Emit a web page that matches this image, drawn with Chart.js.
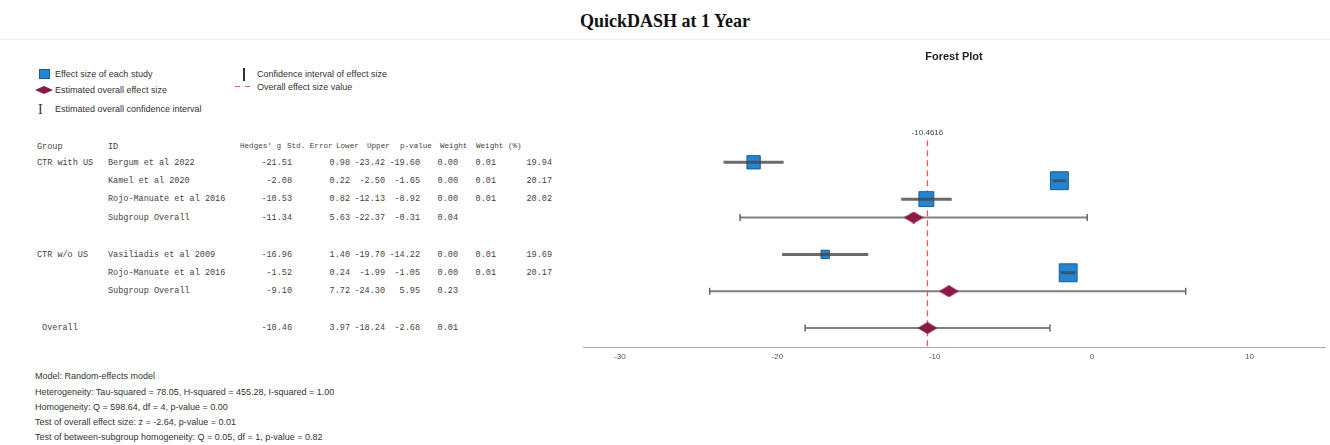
<!doctype html>
<html lang="en">
<head>
<meta charset="utf-8" />
<title>QuickDASH at 1 Year</title>
<script src="https://cdn.jsdelivr.net/npm/chart.js"></script>
<style>
  * { box-sizing: border-box; }
  body { margin: 0; width: 1330px; height: 445px; background: #fff; position: relative; overflow: hidden;
    font-family: "Liberation Sans", Arial, sans-serif; color: #333; }
  .abs { position: absolute; white-space: pre; line-height: 1; }
  .title { left: 0; width: 1330px; top: 11px; text-align: center; font: bold 18px "Liberation Serif", "Times New Roman", serif; color: #111; }
  .rule { position: absolute; left: 0; top: 39px; width: 1330px; height: 1px; background: #eee; }
  .leg { font-size: 9px; color: #333; }
  .mono { font: 8.5px "Liberation Mono", "Courier New", monospace; color: #444; }
  .hdr { font-size: 7.6px; }
  .r { text-align: right; }
  .note { font-size: 9px; color: #333; left: 35px; }
  #wrap { position: absolute; left: 583px; top: 45px; width: 745px; height: 322px; }
</style>
</head>
<body>
<div class="abs title">QuickDASH at 1 Year</div>
<div class="rule"></div>

<!-- legend -->
<div class="abs" style="left:39px;top:69px;width:11px;height:10px;background:#1f86d6;border:1px solid #1a5a96"></div>
<div class="abs leg" style="left:55px;top:70px">Effect size of each study</div>
<div class="abs" style="left:35px;top:86px;width:18px;height:8px;background:#8c1848;clip-path:polygon(0 50%,50% 0,100% 50%,50% 100%)"></div>
<div class="abs leg" style="left:55px;top:86px">Estimated overall effect size</div>
<div class="abs" style="left:38px;top:102px;font:14px 'Liberation Serif',serif;color:#333">I</div>
<div class="abs leg" style="left:55px;top:105px">Estimated overall confidence interval</div>
<div class="abs" style="left:243px;top:68px;width:2px;height:13px;background:#333"></div>
<div class="abs leg" style="left:257px;top:70px">Confidence interval of effect size</div>
<div class="abs" style="left:235px;top:86px;width:5px;height:1px;background:#e8585a"></div>
<div class="abs" style="left:245px;top:86px;width:5px;height:1px;background:#e8585a"></div>
<div class="abs leg" style="left:257px;top:83px">Overall effect size value</div>

<div id="table"></div>

<div class="abs note" style="top:372px">Model: Random-effects model</div>
<div class="abs note" style="top:388px">Heterogeneity: Tau-squared = 78.05, H-squared = 455.28, I-squared = 1.00</div>
<div class="abs note" style="top:403px">Homogeneity: Q = 598.64, df = 4, p-value = 0.00</div>
<div class="abs note" style="top:418px">Test of overall effect size: z = -2.64, p-value = 0.01</div>
<div class="abs note" style="top:433px">Test of between-subgroup homogeneity: Q = 0.05, df = 1, p-value = 0.82</div>

<div id="wrap"><canvas id="forest"></canvas></div>

<script>
// rows of the forest table (row slot 4 and 8 are blank spacer rows)
const rowSlot = [0, 1, 2, 3, 5, 6, 7, 9];
const groups = ["CTR with US", "", "", "", "CTR w/o US", "", "", " Overall"];
const ids = ["Bergum et al 2022", "Kamel et al 2020", "Rojo-Manuate et al 2016", "Subgroup Overall",
  "Vasiliadis et al 2009", "Rojo-Manuate et al 2016", "Subgroup Overall", ""];
const hedgesG = [-21.51, -2.08, -10.53, -11.34, -16.96, -1.52, -9.10, -10.46];
const stdErr = [0.98, 0.22, 0.82, 5.63, 1.40, 0.24, 7.72, 3.97];
const lower = [-23.42, -2.50, -12.13, -22.37, -19.70, -1.99, -24.30, -18.24];
const upper = [-19.60, -1.65, -8.92, -0.31, -14.22, -1.05, 5.95, -2.68];
const pValue = ["0.00", "0.00", "0.00", "0.04", "0.00", "0.00", "0.23", "0.01"];
const weight = ["0.01", "0.01", "0.01", "", "0.01", "0.01", "", ""];
const weightPct = ["19.94", "20.17", "20.02", "", "19.69", "20.17", "", ""];
const isSummary = [false, false, false, true, false, false, true, true];
const overallEffect = -10.4616;
const xTicks = [-30, -20, -10, 0, 10];

// ---- left-hand table (plain text) ----
const ROW0 = 162, ROWH = 18.4;
const tbl = document.getElementById("table");
function put(text, left, top, right, cls) {
  const d = document.createElement("div");
  d.className = "abs mono" + (right ? " r" : "") + (cls ? " " + cls : "");
  d.textContent = text;
  if (right) { d.style.left = (left - 80) + "px"; d.style.width = "80px"; }
  else d.style.left = left + "px";
  d.style.top = (top - 4.5) + "px";
  tbl.appendChild(d);
}
const hdrY = 146;
put("Group", 37, hdrY);
put("ID", 108, hdrY);
[["Hedges' g", 240], ["Std. Error", 287], ["Lower", 336], ["Upper", 367],
 ["p-value", 400], ["Weight", 440], ["Weight (%)", 476]].forEach(([t, x]) => put(t, x, hdrY, false, "hdr"));
const fmt = (v) => v.toFixed(2);
rowSlot.forEach((slot, i) => {
  const y = ROW0 + slot * ROWH;
  if (groups[i]) put(groups[i], 37, y);
  if (ids[i]) put(ids[i], 108, y);
  put(fmt(hedgesG[i]), 292, y, true);
  put(fmt(stdErr[i]), 350, y, true);
  put(fmt(lower[i]), 385, y, true);
  put(fmt(upper[i]), 420, y, true);
  put(pValue[i], 458, y, true);
  put(weight[i], 496, y, true);
  put(weightPct[i], 552, y, true);
});

// ---- forest plot ----
const Y_MIN = -1.2, Y_MAX = 10.05;
function diamond(w, h, color) {
  const c = document.createElement("canvas");
  c.width = w; c.height = h;
  const g = c.getContext("2d");
  g.fillStyle = color;
  g.beginPath();
  g.moveTo(0, h / 2); g.lineTo(w / 2, 0); g.lineTo(w, h / 2); g.lineTo(w / 2, h);
  g.closePath(); g.fill();
  return c;
}
const diamondImg = diamond(20, 12, "#8c1848");

const studyIdx = rowSlot.map((_, i) => i).filter((i) => !isSummary[i]);
const sumIdx = rowSlot.map((_, i) => i).filter((i) => isSummary[i]);

function ciPoints(idx) {
  const pts = [];
  idx.forEach((i) => {
    pts.push({ x: lower[i], y: rowSlot[i] }, { x: upper[i], y: rowSlot[i] }, { x: upper[i], y: null });
  });
  return pts;
}
// box side follows study weight
const boxRadius = studyIdx.map((i) => (4.5 + 20 * (parseFloat(weightPct[i]) - 19.5)) / 1.414);

const labelPlugin = {
  id: "overallLabel",
  afterDraw(chart) {
    const { ctx, chartArea, scales } = chart;
    ctx.save();
    ctx.font = "8px 'Liberation Sans', Arial, sans-serif";
    ctx.fillStyle = "#444";
    ctx.textAlign = "center";
    ctx.textBaseline = "middle";
    ctx.fillText(overallEffect.toFixed(4), scales.x.getPixelForValue(overallEffect), chartArea.top - 7);
    ctx.restore();
  }
};

new Chart(document.getElementById("forest"), {
  type: "scatter",
  data: {
    datasets: [
      {
        type: "line", data: ciPoints(studyIdx), borderColor: "rgba(70,70,70,0.8)", borderWidth: 3,
        pointRadius: 0, spanGaps: false, order: 1
      },
      {
        type: "line", data: ciPoints(sumIdx), borderColor: "#808080", borderWidth: 2,
        pointStyle: "line", rotation: 90, pointRadius: 3.5, pointBorderColor: "#666", pointBorderWidth: 1.5,
        spanGaps: false, order: 3
      },
      {
        data: studyIdx.map((i) => ({ x: hedgesG[i], y: rowSlot[i] })), pointStyle: "rect",
        pointRadius: boxRadius, backgroundColor: "#1f86d6", borderColor: "#1a5a96", borderWidth: 1, order: 2
      },
      {
        data: sumIdx.map((i) => ({ x: hedgesG[i], y: rowSlot[i] })), pointStyle: diamondImg,
        pointRadius: 8, order: 0
      },
      {
        type: "line", data: [{ x: overallEffect, y: Y_MIN }, { x: overallEffect, y: Y_MAX }],
        borderColor: "#e8585a", borderWidth: 1.3, borderDash: [6, 4], pointRadius: 0, order: 5
      }
    ]
  },
  options: {
    responsive: true,
    maintainAspectRatio: false,
    animation: false,
    layout: { autoPadding: false, padding: { left: 0, right: 3, top: 0, bottom: 0 } },
    plugins: {
      legend: { display: false },
      tooltip: { enabled: false },
      title: {
        display: true, text: "Forest Plot", color: "#222",
        font: { family: "'Liberation Sans', Arial, sans-serif", size: 11, weight: "bold" },
        padding: { top: 5, bottom: 77 }
      }
    },
    scales: {
      x: {
        type: "linear", min: -32.35, max: 14.8,
        afterBuildTicks: (s) => { s.ticks = xTicks.map((v) => ({ value: v })); },
        grid: { display: false, drawTicks: false },
        border: { display: true, color: "#aaa", width: 1 },
        ticks: { color: "#555", padding: 5, font: { size: 8, family: "'Liberation Sans', Arial, sans-serif" } }
      },
      y: { type: "linear", reverse: true, min: Y_MIN, max: Y_MAX, display: false }
    }
  },
  plugins: [labelPlugin]
});
</script>
</body>
</html>
